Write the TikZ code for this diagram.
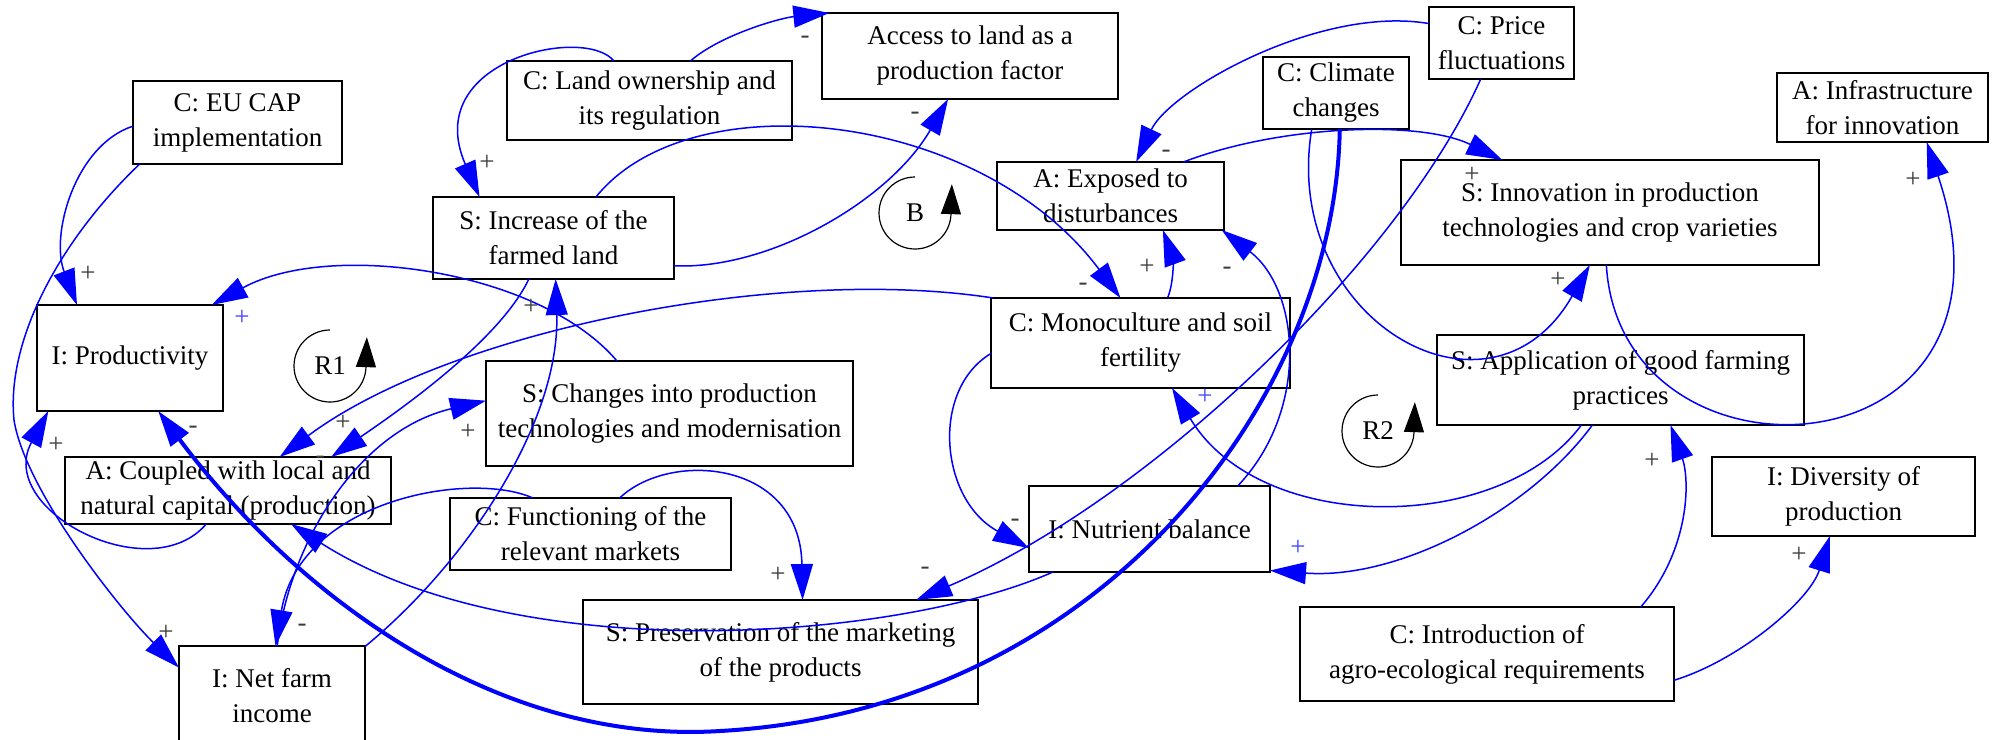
\documentclass[tikz,border=0pt]{standalone}
\usepackage{fontspec}
\setmainfont{Liberation Serif}
\usetikzlibrary{arrows.meta}
\definecolor{edgeblue}{RGB}{0,0,255}
\definecolor{signgrey}{RGB}{60,60,60}
\definecolor{signblue}{RGB}{70,70,255}
\tikzset{
    every node/.style={inner sep=0pt, outer sep=0pt,
    	font=\fontsize{13.5pt}{17.5pt}\selectfont}
}
\tikzset{
    var/.style={draw, line width=.8pt, align=center}
}
\tikzset{
    link/.style={draw=edgeblue, line width=.75pt,
    	-{Triangle[length=18pt,width=11pt]}}
}
\tikzset{
	sgn/.style={text=signgrey},
	bsgn/.style={text=signblue},
	cyc/.style={line width=.6pt, -{Triangle[length=15pt,width=10pt]}}
}

\begin{document}
\begin{tikzpicture}[x=.5pt, y=-.5pt]
  \useasboundingbox (0,0) rectangle (1995,739);

  \node (cap) [var, minimum width=104.5pt, minimum height=41.5pt] at (237.5,122.5) {C: EU CAP\\implementation};
  \node (land) [var, minimum width=142.5pt, minimum height=39.5pt] at (649.5,100.5) {C: Land ownership and\\its regulation};
  \node (acc) [var, minimum width=148pt, minimum height=43pt] at (970,56) {Access to land as a\\production factor};
  \node (inc) [var, minimum width=120.5pt, minimum height=41pt] at (553.5,238) {S: Increase of the\\farmed land};
  \node (prod) [var, minimum width=93pt, minimum height=53pt] at (130,358) {I: Productivity};
  \node (exp) [var, minimum width=113.5pt, minimum height=34pt] at (1110.5,196) {A: Exposed to\\disturbances};
  \node (clim) [var, minimum width=73pt, minimum height=36pt] at (1336,93) {C: Climate\\changes};
  \node (price) [var, minimum width=72.5pt, minimum height=36pt] at (1501.5,43) {C: Price\\fluctuations};
  \node (infra) [var, minimum width=105.5pt, minimum height=34.5pt] at (1882.5,107.5) {A: Infrastructure\\for innovation};
  \node (innov) [var, minimum width=209pt, minimum height=52.5pt] at (1610,212.5) {S: Innovation in production\\technologies and crop varieties};
  \node (mono) [var, minimum width=149.5pt, minimum height=45pt] at (1140.5,343) {C: Monoculture and soil\\fertility};
  \node (chg) [var, minimum width=183.5pt, minimum height=52.5pt] at (669.5,413.5) {S: Changes into production\\technologies and modernisation};
  \node (app) [var, minimum width=183.5pt, minimum height=45pt] at (1620.5,380) {S: Application of good farming\\practices};
  \node (coup) [var, minimum width=163pt, minimum height=33.5pt] at (228,490.5) {A: Coupled with local and\\natural capital (production)};
  \node (func) [var, minimum width=140.5pt, minimum height=36pt] at (590.5,534) {C: Functioning of the\\relevant markets};
  \node (nut) [var, minimum width=120.5pt, minimum height=43pt] at (1149.5,529) {I: Nutrient balance};
  \node (div) [var, minimum width=131.5pt, minimum height=39.5pt] at (1843.5,496.5) {I: Diversity of\\production};
  \node (pres) [var, minimum width=197.5pt, minimum height=52pt] at (780.5,652) {S: Preservation of the marketing\\of the products};
  \node (net) [var, minimum width=93pt, minimum height=50pt] at (272,696) {I: Net farm\\income};
  \node (intro) [var, minimum width=187pt, minimum height=47pt] at (1487,654) {C: Introduction of\\agro-ecological requirements};

  \node (r1) at (330,366) {R1};
  \node (b) at (915,213) {B};
  \node (r2) at (1378,431) {R2};
  \draw [cyc] (r1.center) ++(90:18pt) arc [start angle=90, end angle=355, radius=18pt] -- ++(0.5pt,16pt);
  \draw [cyc] (b.center) ++(90:18pt) arc [start angle=90, end angle=355, radius=18pt] -- ++(0.5pt,16pt);
  \draw [cyc] (r2.center) ++(90:18pt) arc [start angle=90, end angle=355, radius=18pt] -- ++(0.5pt,16pt);

  \draw [link] (cap.182) .. controls (75,145) and (50,235) .. (prod.135);
  \draw [link] (cap.203) .. controls (60,240) and (6,340) .. (14,420) .. controls (25,490) and (120,610) .. (net.163);
  \draw [link] (coup.237) .. controls (150,590) and (-5,510) .. (prod.213);
  \draw [link, line width=2pt] (clim.276) .. controls (1335,400) and (1100,710) .. (720,731) .. controls (500,745) and (300,600) .. (prod.298);
  \draw [link] (inc.239) .. controls (500,340) and (400,410) .. (coup.18);
  \draw [link] (mono.163) .. controls (780,265) and (450,330) .. (coup.33);
  \draw [link] (chg.135) .. controls (540,270) and (330,240) .. (prod.33);
  \draw [link] (land.132) .. controls (585,25) and (420,60) .. (inc.151);
  \draw [link] (land.44) .. controls (720,35) and (780,18) .. (acc.163);
  \draw [link] (inc.347) .. controls (770,270) and (890,200) .. (acc.243);
  \draw [link] (inc.44) .. controls (690,80) and (980,110) .. (mono.114);
  \draw [link] (mono.59) .. controls (1175,280) and (1172,255) .. (exp.327);
  \draw [link] (nut.26) .. controls (1310,410) and (1300,290) .. (exp.343);
  \draw [link] (price.165) .. controls (1320,5) and (1170,90) .. (exp.53);
  \draw [link] (exp.25) .. controls (1280,125) and (1420,120) .. (innov.154);
  \draw [link] (clim.236) .. controls (1280,320) and (1490,440) .. (innov.249);
  \draw [link] (price.240) .. controls (1400,260) and (1150,500) .. (pres.21);
  \draw [link] (mono.184) .. controls (930,390) and (940,500) .. (nut.189);
  \draw [link] (nut.204) .. controls (900,640) and (520,670) .. (coup.332);
  \draw [link] (func.148) .. controls (470,470) and (300,500) .. (net.86);
  \draw [link] (net.84) .. controls (290,540) and (360,430) .. (chg.176);
  \draw [link] (net.28) .. controls (470,560) and (560,420) .. (inc.273);
  \draw [link] (func.51) .. controls (670,450) and (800,460) .. (pres.67);
  \draw [link] (app.229) .. controls (1500,535) and (1260,535) .. (mono.305);
  \draw [link] (app.238) .. controls (1530,510) and (1400,580) .. (nut.341);
  \draw [link] (innov.266) .. controls (1620,500) and (2040,480) .. (infra.322);
  \draw [link] (intro.17) .. controls (1690,550) and (1690,480) .. (app.318);
  \draw [link] (intro.352) .. controls (1740,660) and (1810,600) .. (div.251);

  \node (s1) [sgn] at (88,274) {+};
  \node (s2) [sgn] at (166,633) {+};
  \node (s3) [sgn] at (56,445) {+};
  \node (s4) [sgn] at (193,430) {-};
  \node (s5) [sgn] at (343,423) {+};
  \node (s6) [sgn] at (320,460) {-};
  \node (s7) [bsgn] at (242,318) {+};
  \node (s8) [sgn] at (468,432) {+};
  \node (s9) [sgn] at (531,307) {+};
  \node (s10) [sgn] at (487,163) {+};
  \node (s11) [sgn] at (805,40) {-};
  \node (s12) [sgn] at (915,116) {-};
  \node (s13) [sgn] at (1083,287) {-};
  \node (s14) [sgn] at (1147,267) {+};
  \node (s15) [sgn] at (1227,271) {-};
  \node (s16) [sgn] at (1166,154) {-};
  \node (s17) [sgn] at (1472,175) {+};
  \node (s18) [sgn] at (1558,280) {+};
  \node (s19) [sgn] at (1913,180) {+};
  \node (s20) [bsgn] at (1205,397) {+};
  \node (s21) [bsgn] at (1298,548) {+};
  \node (s22) [sgn] at (1652,461) {+};
  \node (s23) [sgn] at (1799,555) {+};
  \node (s24) [sgn] at (778,575) {+};
  \node (s25) [sgn] at (925,571) {-};
  \node (s26) [sgn] at (1015,523) {-};
  \node (s27) [sgn] at (302,628) {-};
\end{tikzpicture}
\end{document}
